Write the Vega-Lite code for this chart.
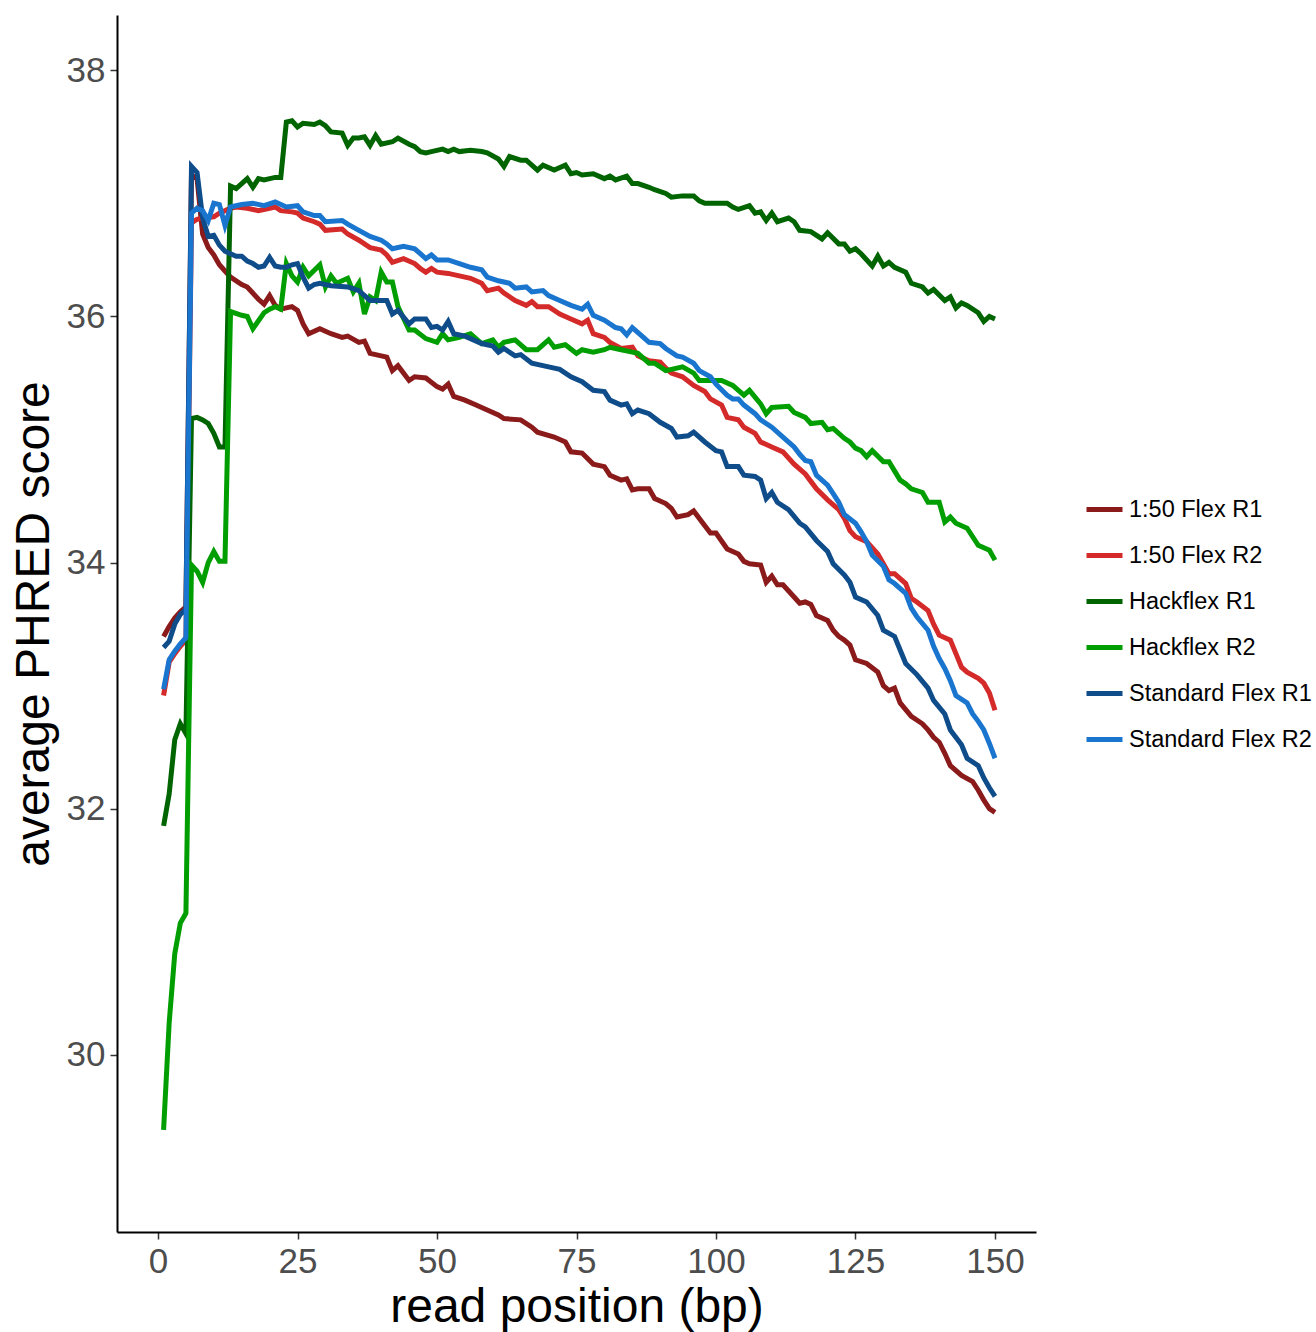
{
"$schema": "https://vega.github.io/schema/vega-lite/v6.json",
"width": 919, "height": 1217,
"autosize": {"type": "none"},
"padding": {"left": 117, "top": 15, "right": 280, "bottom": 100},
"background": "white",
"config": {"view": {"stroke": null}, "font": "Liberation Sans"},
"datasets": {
"r1": [{"pos":1,"q":33.40},{"pos":2,"q":33.48},{"pos":3,"q":33.55},{"pos":4,"q":33.60},{"pos":5,"q":33.64},{"pos":6,"q":37.15},{"pos":7,"q":37.12},{"pos":8,"q":36.67},{"pos":9,"q":36.56},{"pos":10,"q":36.50},{"pos":11,"q":36.42},{"pos":12,"q":36.37},{"pos":13,"q":36.32},{"pos":15,"q":36.26},{"pos":16,"q":36.24},{"pos":18,"q":36.14},{"pos":19,"q":36.10},{"pos":20,"q":36.17},{"pos":21,"q":36.09},{"pos":22,"q":36.06},{"pos":24,"q":36.08},{"pos":25,"q":36.05},{"pos":26,"q":35.94},{"pos":27,"q":35.86},{"pos":29,"q":35.90},{"pos":31,"q":35.86},{"pos":33,"q":35.83},{"pos":34,"q":35.84},{"pos":36,"q":35.79},{"pos":37,"q":35.80},{"pos":38,"q":35.70},{"pos":40,"q":35.68},{"pos":41,"q":35.67},{"pos":42,"q":35.56},{"pos":43,"q":35.60},{"pos":45,"q":35.48},{"pos":46,"q":35.51},{"pos":48,"q":35.50},{"pos":50,"q":35.43},{"pos":51,"q":35.41},{"pos":52,"q":35.45},{"pos":53,"q":35.35},{"pos":55,"q":35.32},{"pos":57,"q":35.28},{"pos":59,"q":35.24},{"pos":61,"q":35.20},{"pos":62,"q":35.17},{"pos":65,"q":35.16},{"pos":67,"q":35.10},{"pos":68,"q":35.06},{"pos":71,"q":35.02},{"pos":73,"q":34.98},{"pos":74,"q":34.90},{"pos":76,"q":34.89},{"pos":78,"q":34.80},{"pos":80,"q":34.78},{"pos":81,"q":34.71},{"pos":83,"q":34.67},{"pos":84,"q":34.68},{"pos":85,"q":34.59},{"pos":86,"q":34.60},{"pos":88,"q":34.60},{"pos":89,"q":34.52},{"pos":91,"q":34.48},{"pos":92,"q":34.44},{"pos":93,"q":34.37},{"pos":95,"q":34.39},{"pos":96,"q":34.42},{"pos":98,"q":34.30},{"pos":99,"q":34.24},{"pos":100,"q":34.24},{"pos":102,"q":34.11},{"pos":104,"q":34.07},{"pos":105,"q":34.01},{"pos":106,"q":33.99},{"pos":108,"q":33.98},{"pos":109,"q":33.84},{"pos":110,"q":33.89},{"pos":111,"q":33.82},{"pos":112,"q":33.82},{"pos":114,"q":33.72},{"pos":115,"q":33.67},{"pos":116,"q":33.68},{"pos":117,"q":33.66},{"pos":118,"q":33.57},{"pos":120,"q":33.53},{"pos":121,"q":33.45},{"pos":122,"q":33.40},{"pos":123,"q":33.37},{"pos":124,"q":33.33},{"pos":125,"q":33.21},{"pos":127,"q":33.18},{"pos":129,"q":33.11},{"pos":130,"q":33.00},{"pos":131,"q":32.96},{"pos":132,"q":32.98},{"pos":133,"q":32.86},{"pos":135,"q":32.75},{"pos":137,"q":32.69},{"pos":138,"q":32.64},{"pos":139,"q":32.58},{"pos":140,"q":32.54},{"pos":141,"q":32.45},{"pos":142,"q":32.35},{"pos":144,"q":32.27},{"pos":146,"q":32.22},{"pos":147,"q":32.15},{"pos":148,"q":32.07},{"pos":149,"q":32.00},{"pos":150,"q":31.97}],
"r2": [{"pos":1,"q":32.92},{"pos":2,"q":33.19},{"pos":3,"q":33.26},{"pos":4,"q":33.32},{"pos":5,"q":33.37},{"pos":6,"q":36.76},{"pos":7,"q":36.79},{"pos":8,"q":36.80},{"pos":10,"q":36.81},{"pos":11,"q":36.84},{"pos":13,"q":36.88},{"pos":14,"q":36.89},{"pos":16,"q":36.88},{"pos":18,"q":36.86},{"pos":20,"q":36.88},{"pos":21,"q":36.89},{"pos":22,"q":36.86},{"pos":24,"q":36.85},{"pos":25,"q":36.84},{"pos":26,"q":36.80},{"pos":28,"q":36.77},{"pos":29,"q":36.75},{"pos":30,"q":36.70},{"pos":33,"q":36.71},{"pos":34,"q":36.67},{"pos":36,"q":36.62},{"pos":38,"q":36.56},{"pos":40,"q":36.54},{"pos":41,"q":36.50},{"pos":42,"q":36.44},{"pos":44,"q":36.47},{"pos":46,"q":36.43},{"pos":47,"q":36.39},{"pos":48,"q":36.36},{"pos":49,"q":36.39},{"pos":50,"q":36.36},{"pos":52,"q":36.35},{"pos":54,"q":36.33},{"pos":56,"q":36.31},{"pos":58,"q":36.27},{"pos":59,"q":36.21},{"pos":61,"q":36.23},{"pos":62,"q":36.19},{"pos":64,"q":36.13},{"pos":66,"q":36.09},{"pos":67,"q":36.12},{"pos":68,"q":36.08},{"pos":70,"q":36.08},{"pos":72,"q":36.02},{"pos":74,"q":35.98},{"pos":76,"q":35.94},{"pos":77,"q":35.97},{"pos":78,"q":35.86},{"pos":80,"q":35.83},{"pos":81,"q":35.79},{"pos":83,"q":35.74},{"pos":85,"q":35.75},{"pos":86,"q":35.68},{"pos":88,"q":35.64},{"pos":90,"q":35.63},{"pos":91,"q":35.58},{"pos":92,"q":35.54},{"pos":94,"q":35.51},{"pos":96,"q":35.44},{"pos":98,"q":35.39},{"pos":99,"q":35.33},{"pos":101,"q":35.28},{"pos":102,"q":35.18},{"pos":104,"q":35.16},{"pos":105,"q":35.10},{"pos":107,"q":35.05},{"pos":108,"q":34.98},{"pos":110,"q":34.94},{"pos":112,"q":34.90},{"pos":114,"q":34.80},{"pos":116,"q":34.72},{"pos":117,"q":34.66},{"pos":118,"q":34.60},{"pos":120,"q":34.51},{"pos":122,"q":34.43},{"pos":123,"q":34.36},{"pos":124,"q":34.26},{"pos":125,"q":34.21},{"pos":127,"q":34.17},{"pos":129,"q":34.07},{"pos":130,"q":33.99},{"pos":131,"q":33.91},{"pos":132,"q":33.91},{"pos":134,"q":33.83},{"pos":135,"q":33.71},{"pos":136,"q":33.68},{"pos":138,"q":33.61},{"pos":139,"q":33.50},{"pos":140,"q":33.41},{"pos":142,"q":33.37},{"pos":143,"q":33.26},{"pos":144,"q":33.15},{"pos":145,"q":33.11},{"pos":147,"q":33.06},{"pos":148,"q":33.02},{"pos":149,"q":32.94},{"pos":150,"q":32.80}],
"h1": [{"pos":1,"q":31.86},{"pos":2,"q":32.12},{"pos":3,"q":32.56},{"pos":4,"q":32.69},{"pos":5,"q":32.61},{"pos":6,"q":35.17},{"pos":7,"q":35.18},{"pos":8,"q":35.16},{"pos":9,"q":35.13},{"pos":10,"q":35.05},{"pos":11,"q":34.94},{"pos":12,"q":34.94},{"pos":13,"q":37.06},{"pos":14,"q":37.04},{"pos":15,"q":37.08},{"pos":16,"q":37.12},{"pos":17,"q":37.05},{"pos":18,"q":37.12},{"pos":19,"q":37.11},{"pos":21,"q":37.13},{"pos":22,"q":37.13},{"pos":23,"q":37.58},{"pos":24,"q":37.59},{"pos":25,"q":37.54},{"pos":26,"q":37.57},{"pos":28,"q":37.56},{"pos":29,"q":37.58},{"pos":30,"q":37.55},{"pos":31,"q":37.50},{"pos":33,"q":37.49},{"pos":34,"q":37.39},{"pos":35,"q":37.45},{"pos":36,"q":37.45},{"pos":37,"q":37.46},{"pos":38,"q":37.39},{"pos":39,"q":37.47},{"pos":40,"q":37.40},{"pos":42,"q":37.42},{"pos":43,"q":37.45},{"pos":45,"q":37.40},{"pos":46,"q":37.38},{"pos":47,"q":37.34},{"pos":48,"q":37.33},{"pos":49,"q":37.34},{"pos":51,"q":37.36},{"pos":52,"q":37.34},{"pos":53,"q":37.36},{"pos":54,"q":37.34},{"pos":56,"q":37.35},{"pos":58,"q":37.34},{"pos":59,"q":37.33},{"pos":61,"q":37.28},{"pos":62,"q":37.22},{"pos":63,"q":37.30},{"pos":65,"q":37.27},{"pos":66,"q":37.27},{"pos":68,"q":37.19},{"pos":69,"q":37.23},{"pos":71,"q":37.19},{"pos":73,"q":37.23},{"pos":74,"q":37.16},{"pos":75,"q":37.17},{"pos":76,"q":37.15},{"pos":78,"q":37.16},{"pos":80,"q":37.12},{"pos":81,"q":37.14},{"pos":82,"q":37.11},{"pos":84,"q":37.14},{"pos":85,"q":37.08},{"pos":86,"q":37.08},{"pos":88,"q":37.05},{"pos":89,"q":37.03},{"pos":91,"q":37.00},{"pos":92,"q":36.97},{"pos":94,"q":36.98},{"pos":96,"q":36.98},{"pos":97,"q":36.94},{"pos":98,"q":36.92},{"pos":100,"q":36.92},{"pos":102,"q":36.92},{"pos":103,"q":36.89},{"pos":104,"q":36.87},{"pos":106,"q":36.90},{"pos":107,"q":36.84},{"pos":108,"q":36.85},{"pos":109,"q":36.78},{"pos":110,"q":36.84},{"pos":111,"q":36.77},{"pos":113,"q":36.80},{"pos":114,"q":36.77},{"pos":115,"q":36.70},{"pos":117,"q":36.69},{"pos":119,"q":36.63},{"pos":120,"q":36.68},{"pos":122,"q":36.59},{"pos":123,"q":36.59},{"pos":124,"q":36.53},{"pos":125,"q":36.55},{"pos":126,"q":36.51},{"pos":128,"q":36.41},{"pos":129,"q":36.49},{"pos":130,"q":36.41},{"pos":131,"q":36.44},{"pos":132,"q":36.40},{"pos":134,"q":36.36},{"pos":135,"q":36.27},{"pos":137,"q":36.24},{"pos":138,"q":36.19},{"pos":139,"q":36.22},{"pos":141,"q":36.13},{"pos":142,"q":36.16},{"pos":143,"q":36.07},{"pos":144,"q":36.11},{"pos":145,"q":36.09},{"pos":147,"q":36.03},{"pos":148,"q":35.96},{"pos":149,"q":36.00},{"pos":150,"q":35.98}],
"h2": [{"pos":1,"q":29.39},{"pos":2,"q":30.26},{"pos":3,"q":30.82},{"pos":4,"q":31.07},{"pos":5,"q":31.15},{"pos":6,"q":33.98},{"pos":7,"q":33.93},{"pos":8,"q":33.84},{"pos":9,"q":34.00},{"pos":10,"q":34.09},{"pos":11,"q":34.01},{"pos":12,"q":34.01},{"pos":13,"q":36.04},{"pos":15,"q":36.01},{"pos":16,"q":36.00},{"pos":17,"q":35.90},{"pos":19,"q":36.03},{"pos":20,"q":36.06},{"pos":21,"q":36.08},{"pos":22,"q":36.06},{"pos":23,"q":36.43},{"pos":24,"q":36.33},{"pos":25,"q":36.28},{"pos":26,"q":36.40},{"pos":27,"q":36.33},{"pos":29,"q":36.42},{"pos":30,"q":36.24},{"pos":31,"q":36.33},{"pos":32,"q":36.27},{"pos":34,"q":36.31},{"pos":35,"q":36.20},{"pos":36,"q":36.27},{"pos":37,"q":36.02},{"pos":38,"q":36.16},{"pos":39,"q":36.13},{"pos":40,"q":36.36},{"pos":41,"q":36.28},{"pos":42,"q":36.28},{"pos":43,"q":36.08},{"pos":45,"q":35.89},{"pos":46,"q":35.89},{"pos":48,"q":35.82},{"pos":50,"q":35.79},{"pos":51,"q":35.86},{"pos":52,"q":35.81},{"pos":54,"q":35.83},{"pos":56,"q":35.86},{"pos":58,"q":35.78},{"pos":60,"q":35.81},{"pos":61,"q":35.75},{"pos":62,"q":35.79},{"pos":64,"q":35.81},{"pos":66,"q":35.73},{"pos":68,"q":35.73},{"pos":70,"q":35.81},{"pos":71,"q":35.75},{"pos":73,"q":35.77},{"pos":75,"q":35.70},{"pos":76,"q":35.73},{"pos":78,"q":35.71},{"pos":80,"q":35.73},{"pos":81,"q":35.75},{"pos":83,"q":35.73},{"pos":85,"q":35.71},{"pos":86,"q":35.70},{"pos":88,"q":35.62},{"pos":89,"q":35.62},{"pos":91,"q":35.56},{"pos":93,"q":35.58},{"pos":94,"q":35.59},{"pos":96,"q":35.54},{"pos":97,"q":35.48},{"pos":99,"q":35.48},{"pos":101,"q":35.48},{"pos":103,"q":35.44},{"pos":105,"q":35.36},{"pos":106,"q":35.40},{"pos":108,"q":35.29},{"pos":109,"q":35.21},{"pos":110,"q":35.26},{"pos":113,"q":35.27},{"pos":114,"q":35.22},{"pos":116,"q":35.18},{"pos":117,"q":35.13},{"pos":119,"q":35.14},{"pos":120,"q":35.08},{"pos":121,"q":35.09},{"pos":123,"q":35.01},{"pos":124,"q":34.98},{"pos":125,"q":34.93},{"pos":126,"q":34.91},{"pos":127,"q":34.86},{"pos":128,"q":34.91},{"pos":130,"q":34.82},{"pos":131,"q":34.82},{"pos":133,"q":34.67},{"pos":134,"q":34.64},{"pos":135,"q":34.60},{"pos":137,"q":34.57},{"pos":138,"q":34.49},{"pos":140,"q":34.49},{"pos":141,"q":34.33},{"pos":142,"q":34.37},{"pos":143,"q":34.32},{"pos":145,"q":34.28},{"pos":146,"q":34.21},{"pos":147,"q":34.14},{"pos":149,"q":34.10},{"pos":150,"q":34.02}],
"s1": [{"pos":1,"q":33.31},{"pos":2,"q":33.36},{"pos":3,"q":33.50},{"pos":4,"q":33.58},{"pos":5,"q":33.62},{"pos":6,"q":37.22},{"pos":7,"q":37.17},{"pos":8,"q":36.80},{"pos":9,"q":36.65},{"pos":10,"q":36.66},{"pos":11,"q":36.58},{"pos":12,"q":36.53},{"pos":13,"q":36.51},{"pos":14,"q":36.49},{"pos":15,"q":36.49},{"pos":16,"q":36.45},{"pos":17,"q":36.43},{"pos":18,"q":36.40},{"pos":19,"q":36.41},{"pos":20,"q":36.48},{"pos":21,"q":36.41},{"pos":22,"q":36.40},{"pos":23,"q":36.40},{"pos":24,"q":36.42},{"pos":25,"q":36.43},{"pos":26,"q":36.32},{"pos":27,"q":36.23},{"pos":28,"q":36.26},{"pos":29,"q":36.27},{"pos":31,"q":36.25},{"pos":34,"q":36.24},{"pos":36,"q":36.21},{"pos":38,"q":36.13},{"pos":41,"q":36.13},{"pos":42,"q":36.02},{"pos":43,"q":36.05},{"pos":45,"q":35.94},{"pos":46,"q":35.98},{"pos":48,"q":35.98},{"pos":49,"q":35.91},{"pos":50,"q":35.92},{"pos":51,"q":35.89},{"pos":52,"q":35.96},{"pos":53,"q":35.86},{"pos":55,"q":35.84},{"pos":58,"q":35.78},{"pos":60,"q":35.76},{"pos":61,"q":35.71},{"pos":62,"q":35.74},{"pos":64,"q":35.68},{"pos":65,"q":35.69},{"pos":67,"q":35.62},{"pos":70,"q":35.59},{"pos":72,"q":35.57},{"pos":74,"q":35.51},{"pos":76,"q":35.47},{"pos":78,"q":35.40},{"pos":80,"q":35.39},{"pos":81,"q":35.32},{"pos":83,"q":35.28},{"pos":84,"q":35.29},{"pos":85,"q":35.21},{"pos":86,"q":35.24},{"pos":88,"q":35.21},{"pos":90,"q":35.14},{"pos":92,"q":35.09},{"pos":93,"q":35.02},{"pos":95,"q":35.03},{"pos":96,"q":35.06},{"pos":98,"q":34.98},{"pos":100,"q":34.91},{"pos":101,"q":34.90},{"pos":102,"q":34.78},{"pos":104,"q":34.78},{"pos":105,"q":34.71},{"pos":107,"q":34.70},{"pos":108,"q":34.67},{"pos":109,"q":34.52},{"pos":110,"q":34.57},{"pos":111,"q":34.49},{"pos":113,"q":34.43},{"pos":115,"q":34.32},{"pos":116,"q":34.29},{"pos":118,"q":34.18},{"pos":120,"q":34.09},{"pos":121,"q":33.99},{"pos":123,"q":33.90},{"pos":124,"q":33.84},{"pos":125,"q":33.72},{"pos":127,"q":33.68},{"pos":129,"q":33.57},{"pos":130,"q":33.45},{"pos":132,"q":33.40},{"pos":133,"q":33.29},{"pos":134,"q":33.18},{"pos":136,"q":33.09},{"pos":138,"q":32.98},{"pos":139,"q":32.88},{"pos":141,"q":32.77},{"pos":142,"q":32.64},{"pos":144,"q":32.52},{"pos":145,"q":32.41},{"pos":147,"q":32.35},{"pos":148,"q":32.25},{"pos":149,"q":32.17},{"pos":150,"q":32.10}],
"s2": [{"pos":1,"q":32.97},{"pos":2,"q":33.21},{"pos":3,"q":33.28},{"pos":4,"q":33.34},{"pos":5,"q":33.39},{"pos":6,"q":36.84},{"pos":7,"q":36.88},{"pos":8,"q":36.86},{"pos":9,"q":36.78},{"pos":10,"q":36.92},{"pos":11,"q":36.91},{"pos":12,"q":36.74},{"pos":13,"q":36.89},{"pos":15,"q":36.91},{"pos":17,"q":36.92},{"pos":19,"q":36.90},{"pos":21,"q":36.93},{"pos":23,"q":36.89},{"pos":25,"q":36.90},{"pos":26,"q":36.85},{"pos":28,"q":36.82},{"pos":29,"q":36.82},{"pos":30,"q":36.77},{"pos":33,"q":36.78},{"pos":34,"q":36.75},{"pos":36,"q":36.70},{"pos":38,"q":36.65},{"pos":40,"q":36.62},{"pos":41,"q":36.59},{"pos":42,"q":36.55},{"pos":44,"q":36.57},{"pos":46,"q":36.55},{"pos":47,"q":36.51},{"pos":48,"q":36.47},{"pos":49,"q":36.50},{"pos":50,"q":36.46},{"pos":52,"q":36.46},{"pos":54,"q":36.43},{"pos":56,"q":36.40},{"pos":58,"q":36.38},{"pos":59,"q":36.32},{"pos":61,"q":36.29},{"pos":63,"q":36.27},{"pos":64,"q":36.23},{"pos":66,"q":36.24},{"pos":67,"q":36.20},{"pos":69,"q":36.21},{"pos":70,"q":36.17},{"pos":72,"q":36.13},{"pos":74,"q":36.09},{"pos":76,"q":36.06},{"pos":77,"q":36.10},{"pos":78,"q":36.01},{"pos":80,"q":35.97},{"pos":82,"q":35.91},{"pos":83,"q":35.90},{"pos":84,"q":35.85},{"pos":85,"q":35.91},{"pos":87,"q":35.83},{"pos":88,"q":35.79},{"pos":90,"q":35.78},{"pos":91,"q":35.74},{"pos":93,"q":35.68},{"pos":94,"q":35.67},{"pos":96,"q":35.62},{"pos":97,"q":35.56},{"pos":99,"q":35.51},{"pos":100,"q":35.45},{"pos":102,"q":35.36},{"pos":103,"q":35.33},{"pos":104,"q":35.33},{"pos":105,"q":35.28},{"pos":107,"q":35.21},{"pos":108,"q":35.16},{"pos":110,"q":35.10},{"pos":112,"q":35.02},{"pos":114,"q":34.94},{"pos":115,"q":34.88},{"pos":116,"q":34.83},{"pos":117,"q":34.82},{"pos":118,"q":34.71},{"pos":120,"q":34.63},{"pos":121,"q":34.56},{"pos":122,"q":34.49},{"pos":123,"q":34.39},{"pos":125,"q":34.32},{"pos":126,"q":34.25},{"pos":127,"q":34.17},{"pos":128,"q":34.06},{"pos":130,"q":33.97},{"pos":131,"q":33.86},{"pos":132,"q":33.83},{"pos":134,"q":33.75},{"pos":135,"q":33.63},{"pos":136,"q":33.56},{"pos":138,"q":33.45},{"pos":139,"q":33.32},{"pos":140,"q":33.22},{"pos":141,"q":33.14},{"pos":142,"q":33.04},{"pos":143,"q":32.92},{"pos":145,"q":32.86},{"pos":146,"q":32.77},{"pos":147,"q":32.71},{"pos":148,"q":32.64},{"pos":149,"q":32.53},{"pos":150,"q":32.41}]
},
"encoding": {
  "x": {"field": "pos", "type": "quantitative",
    "scale": {"domain": [-7.35, 157.35], "nice": false, "zero": false},
    "axis": {"values": [0,25,50,75,100,125,150], "grid": false, "title": "read position (bp)",
      "labelFontSize": 35, "labelColor": "#4D4D4D", "labelPadding": 5,
      "tickSize": 7, "tickWidth": 1.5, "tickColor": "#333333",
      "domainColor": "#000000", "domainWidth": 2,
      "titleFontSize": 48, "titleFontWeight": "normal", "titleColor": "#000000", "titlePadding": 4}},
  "y": {"field": "q", "type": "quantitative",
    "scale": {"domain": [28.56, 38.45], "nice": false, "zero": false},
    "axis": {"values": [30,32,34,36,38], "grid": false, "title": "average PHRED score",
      "labelFontSize": 35, "labelColor": "#4D4D4D", "labelPadding": 5,
      "tickSize": 7, "tickWidth": 1.5, "tickColor": "#333333",
      "domainColor": "#000000", "domainWidth": 2,
      "titleFontSize": 48, "titleFontWeight": "normal", "titleColor": "#000000", "titlePadding": 8}},
  "color": {"type": "nominal",
    "scale": {"domain": ["1:50 Flex R1","1:50 Flex R2","Hackflex R1","Hackflex R2","Standard Flex R1","Standard Flex R2"],
              "range": ["#8B1A1A","#D42A2A","#006400","#009E00","#0F4C8A","#1A75CF"]},
    "legend": {"title": null, "orient": "none", "legendX": 967, "legendY": 474,
      "symbolType": "stroke", "symbolSize": 1296, "symbolStrokeWidth": 5,
      "labelFontSize": 23.5, "labelColor": "#000000", "labelOffset": 4, "rowPadding": 14, "labelLimit": 300}}
},
"layer": [
  {"data": {"name": "r1"}, "mark": {"type": "line", "strokeWidth": 5}, "encoding": {"color": {"datum": "1:50 Flex R1"}}},
  {"data": {"name": "r2"}, "mark": {"type": "line", "strokeWidth": 5}, "encoding": {"color": {"datum": "1:50 Flex R2"}}},
  {"data": {"name": "h1"}, "mark": {"type": "line", "strokeWidth": 5}, "encoding": {"color": {"datum": "Hackflex R1"}}},
  {"data": {"name": "h2"}, "mark": {"type": "line", "strokeWidth": 5}, "encoding": {"color": {"datum": "Hackflex R2"}}},
  {"data": {"name": "s1"}, "mark": {"type": "line", "strokeWidth": 5}, "encoding": {"color": {"datum": "Standard Flex R1"}}},
  {"data": {"name": "s2"}, "mark": {"type": "line", "strokeWidth": 5}, "encoding": {"color": {"datum": "Standard Flex R2"}}}
]
}
